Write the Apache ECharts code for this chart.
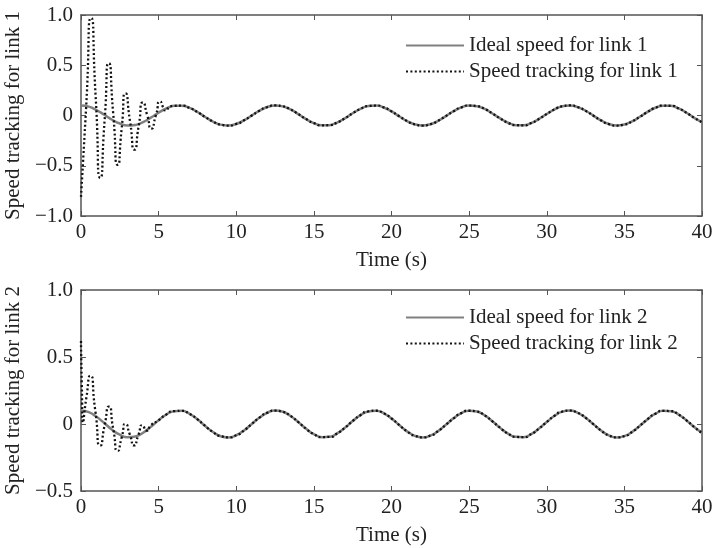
<!DOCTYPE html>
<html>
<head>
<meta charset="utf-8">
<script src="https://cdn.jsdelivr.net/npm/echarts@6/dist/echarts.min.js"></script>
<style>
  html, body { margin: 0; padding: 0; background: #fff; }
  #chart { width: 714px; height: 548px; }
</style>
</head>
<body>
<div id="chart"></div>
<script>
const FONT = '"Liberation Serif", "DejaVu Serif", serif';
const AXIS_COLOR = '#555';

// sample times for the steady part (s), 0.5 s apart
const timeStep = 0.5;
// ideal speed (same reference curve for both links), read every 0.5 s from 0 to 40
const idealSpeed = [
  0.100, 0.088, 0.054, 0.007, -0.042, -0.080, -0.099, -0.094, -0.065, -0.021,
  0.028, 0.071, 0.096, 0.098, 0.075, 0.035, -0.015, -0.060, -0.091, -0.100,
  -0.084, -0.048, 0.000, 0.048, 0.084, 0.100, 0.091, 0.060, 0.014, -0.036,
  -0.076, -0.098, -0.096, -0.070, -0.028, 0.022, 0.066, 0.094, 0.099, 0.080,
  0.041, -0.008, -0.055, -0.088, -0.100, -0.087, -0.053, -0.006, 0.042, 0.081,
  0.099, 0.093, 0.065, 0.020, -0.029, -0.072, -0.096, -0.098, -0.075, -0.034,
  0.015, 0.061, 0.092, 0.100, 0.083, 0.047, -0.001, -0.049, -0.085, -0.100,
  -0.090, -0.059, -0.013, 0.036, 0.077, 0.098, 0.096, 0.070, 0.027, -0.023,
  -0.067
];

// transient part of the tracked speed, [time, speed]
const trackLink1Start = [
  [0, -0.81], [0.33, 0.08], [0.65, 0.97], [0.95, 0.17], [1.25, -0.62],
  [1.52, -0.05], [1.79, 0.52], [2.08, 0.01], [2.37, -0.49], [2.62, -0.13],
  [2.87, 0.22], [3.16, -0.06], [3.45, -0.34], [3.72, -0.10], [4.0, 0.13],
  [4.27, 0.0], [4.53, -0.13], [4.82, 0.0], [5.1, 0.14], [5.3, 0.08],
  [5.45, 0.05], [5.75, 0.09]
];
const trackLink2Start = [
  [0, 0.62], [0.05, 0.3], [0.13, 0.01], [0.35, 0.2], [0.6, 0.36],
  [0.92, 0.1], [1.25, -0.16], [1.52, -0.01], [1.8, 0.13], [2.08, -0.04],
  [2.37, -0.2], [2.62, -0.1], [2.87, 0.0], [3.15, -0.08], [3.42, -0.16],
  [3.7, -0.08], [3.95, -0.01], [4.25, -0.05], [4.5, -0.01]
];

const xTicks = { min: 0, max: 40, interval: 5 };
const yTicksLink1 = { min: -1, max: 1, interval: 0.5 };
const yTicksLink2 = { min: -0.5, max: 1, interval: 0.5 };

const idealPoints = idealSpeed.map((v, i) => [i * timeStep, v]);
function joinTrack(start) {
  const last = start[start.length - 1][0];
  return start.concat(idealPoints.filter(p => p[0] > last));
}

function yFmt(v) {
  if (Math.abs(v) < 1e-9) return '0';
  return v.toFixed(1).replace('-', '\u2212');
}

const labelStyle = { fontFamily: FONT, fontSize: 21, color: '#222' };
const frameLine = { onZero: false, lineStyle: { color: AXIS_COLOR, width: 1.5 } };
const innerTick = { inside: true, length: 5, lineStyle: { color: AXIS_COLOR } };

function xAxes(grid) {
  return [{
    type: 'value', gridIndex: grid, position: 'bottom', ...xTicks,
    name: 'Time (s)', nameLocation: 'middle', nameGap: 34,
    nameTextStyle: labelStyle,
    axisLine: frameLine, axisTick: innerTick,
    axisLabel: { ...labelStyle, margin: 6 },
    splitLine: { show: false }
  }, {
    type: 'value', gridIndex: grid, position: 'top', ...xTicks,
    axisLine: frameLine, axisTick: innerTick,
    axisLabel: { show: false },
    splitLine: { show: false }
  }];
}

function yAxes(grid, ticks, name) {
  return [{
    type: 'value', gridIndex: grid, position: 'left', ...ticks,
    name: name, nameLocation: 'middle', nameGap: 50,
    nameTextStyle: labelStyle,
    axisLine: frameLine, axisTick: innerTick,
    axisLabel: { ...labelStyle, margin: 8, formatter: yFmt },
    splitLine: { show: false }
  }, {
    type: 'value', gridIndex: grid, position: 'right', ...ticks,
    axisLine: frameLine, axisTick: innerTick,
    axisLabel: { show: false },
    splitLine: { show: false }
  }];
}

function idealSeries(name, axis) {
  return {
    name, type: 'line', xAxisIndex: axis, yAxisIndex: axis,
    data: idealPoints, smooth: 0.5, symbol: 'none', z: 2,
    lineStyle: { color: '#808080', width: 2.5 },
    itemStyle: { color: '#808080' }
  };
}
function trackSeries(name, axis, start) {
  return {
    name, type: 'line', xAxisIndex: axis, yAxisIndex: axis,
    data: joinTrack(start), smooth: 0.8, symbol: 'none', z: 3,
    lineStyle: { color: '#111', width: 2.3, type: [2, 2.4] },
    itemStyle: { color: '#111' }
  };
}

function legend(top, names) {
  return {
    orient: 'vertical', left: 400, top: top, itemGap: 5,
    itemWidth: 58, itemHeight: 16,
    itemStyle: { opacity: 0 },
    textStyle: { ...labelStyle, padding: [0, 0, 0, 0] },
    data: names
  };
}

const chart = echarts.init(document.getElementById('chart'), null, { renderer: 'canvas' });
chart.setOption({
  animation: false,
  backgroundColor: '#fff',
  grid: [
    { left: 81, top: 15, width: 621, height: 201, outerBoundsMode: 'none' },
    { left: 81, top: 290, width: 621, height: 201, outerBoundsMode: 'none' }
  ],
  legend: [
    legend(30, ['Ideal speed for link 1', 'Speed tracking for link 1']),
    legend(302, ['Ideal speed for link 2', 'Speed tracking for link 2'])
  ],
  xAxis: [...xAxes(0), ...xAxes(1)],
  yAxis: [
    ...yAxes(0, yTicksLink1, 'Speed tracking for link 1'),
    ...yAxes(1, yTicksLink2, 'Speed tracking for link 2')
  ],
  series: [
    idealSeries('Ideal speed for link 1', 0),
    trackSeries('Speed tracking for link 1', 0, trackLink1Start),
    idealSeries('Ideal speed for link 2', 2),
    trackSeries('Speed tracking for link 2', 2, trackLink2Start)
  ]
});
</script>
</body>
</html>
